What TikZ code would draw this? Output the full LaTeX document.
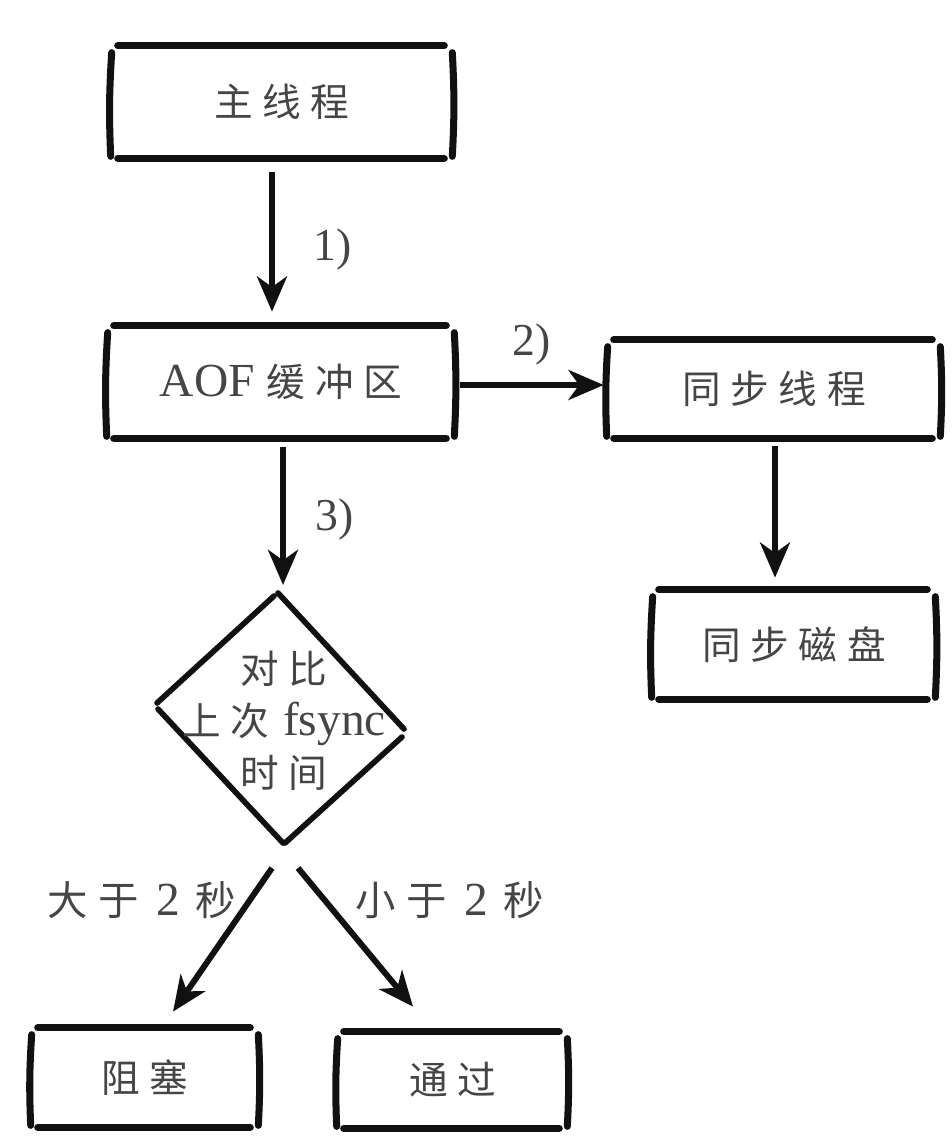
\documentclass[tikz,border=0pt]{standalone}
\usepackage{fontspec}
\setmainfont{Liberation Serif}
\newfontfamily\cjk[LetterSpace=25]{Noto Sans CJK SC}
\usetikzlibrary{arrows.meta,calc}
\definecolor{ink}{HTML}{111111}
\definecolor{txt}{HTML}{454545}
\newcommand\latword[1]{{\fontsize{27}{29.5}\selectfont #1}}
\begin{document}
\begin{tikzpicture}[x=0.02cm,y=-0.02cm,
  boxline/.style={draw=ink, line width=4pt, line cap=round},
  dialine/.style={draw=ink, line width=3.2pt, line cap=round},
  arr/.style={draw=ink, line width=3.4pt, -{Stealth[length=20pt,width=17pt,inset=6pt]}},
  box/.style={inner sep=0pt, text=txt, font=\fontsize{22}{29.5}\selectfont},
  lbl/.style={inner sep=0pt, text=txt, font=\fontsize{26}{30}\selectfont},
  cond/.style={inner sep=0pt, text=txt, font=\fontsize{23}{30}\selectfont},
]
\useasboundingbox (0,0) rectangle (951,1140);
% boxes
\node[box, minimum width=6.8cm,  minimum height=2.24cm] (main) at (282,102)    {\cjk 主线程};
\node[box, minimum width=6.92cm, minimum height=2.24cm] (aof)  at (281,382)    {\latword{AOF}\hspace{7pt}{\cjk 缓冲区}};
\node[box, minimum width=6.64cm, minimum height=1.96cm] (syn)  at (774,389)    {\cjk 同步线程};
\node[box, minimum width=5.64cm, minimum height=2.18cm] (disk) at (794,644.5)  {\cjk 同步磁盘};
\node[box, minimum width=4.52cm, minimum height=1.98cm] (blk)  at (145,1077.5) {\cjk 阻塞};
\node[box, minimum width=4.58cm, minimum height=1.92cm] (pass) at (452.5,1080) {\cjk 通过};
\foreach \n in {main,aof,syn,disk,blk,pass}{
  \draw[boxline] ($(\n.north west)+(6,0)$) -- ($(\n.north east)+(-8,0)$);
  \draw[boxline] ($(\n.south west)+(6,0)$) -- ($(\n.south east)+(-8,0)$);
  \draw[boxline] ($(\n.north west)+(0,7)$) to[bend right=3] ($(\n.south west)+(-1,-2)$);
  \draw[boxline] ($(\n.north east)+(0,7)$) to[bend left=3] ($(\n.south east)+(0,-2)$);
}
% diamond
\coordinate (dtop)   at (278,593);
\coordinate (dleft)  at (157,703);
\coordinate (dright) at (404,729);
\coordinate (dbot)   at (285,843);
\draw[dialine] (dleft) -- ($(dtop)+(-4,3)$);
\draw[dialine] (dtop) -- (dright);
\draw[dialine] ($(dright)+(-2,8)$) -- (dbot);
\draw[dialine] ($(dleft)+(1,6)$) -- ($(dbot)+(-2,0)$);
\node[box, align=center] (dia) at (284,721)
  {{\cjk 对比}\\{\cjk 上次}\hspace{8pt}\latword{fsync}\\{\cjk 时间}};
% arrows
\draw[arr] ($(main.south)+(-10,14)$) -- ($(aof.north)+(-9,-14)$);
\draw[arr] ($(aof.east)+(6,3)$) -- ($(syn.west)+(-4,-4)$);
\draw[arr] ($(aof.south)+(2,9)$) -- ($(dtop)+(5,-8)$);
\draw[arr] ($(syn.south)+(1,8)$) -- ($(disk.north)+(-19,-12)$);
\draw[arr] ($(dbot)+(-13,25)$) -- ($(blk.north)+(28,-16)$);
\draw[arr] ($(dbot)+(13,25)$) -- ($(pass.north)+(-39.5,-25)$);
% labels
\node[lbl] (l1) at (333,250) {1)};
\node[lbl] (l2) at (532,345) {2)};
\node[lbl] (l3) at (335,520) {3)};
\node[cond] (l4) at (142,900) {{\cjk 大于}\hspace{10pt}\latword{2}\hspace{9pt}{\cjk 秒}};
\node[cond] (l5) at (450,900) {{\cjk 小于}\hspace{10pt}\latword{2}\hspace{9pt}{\cjk 秒}};
\end{tikzpicture}
\end{document}
